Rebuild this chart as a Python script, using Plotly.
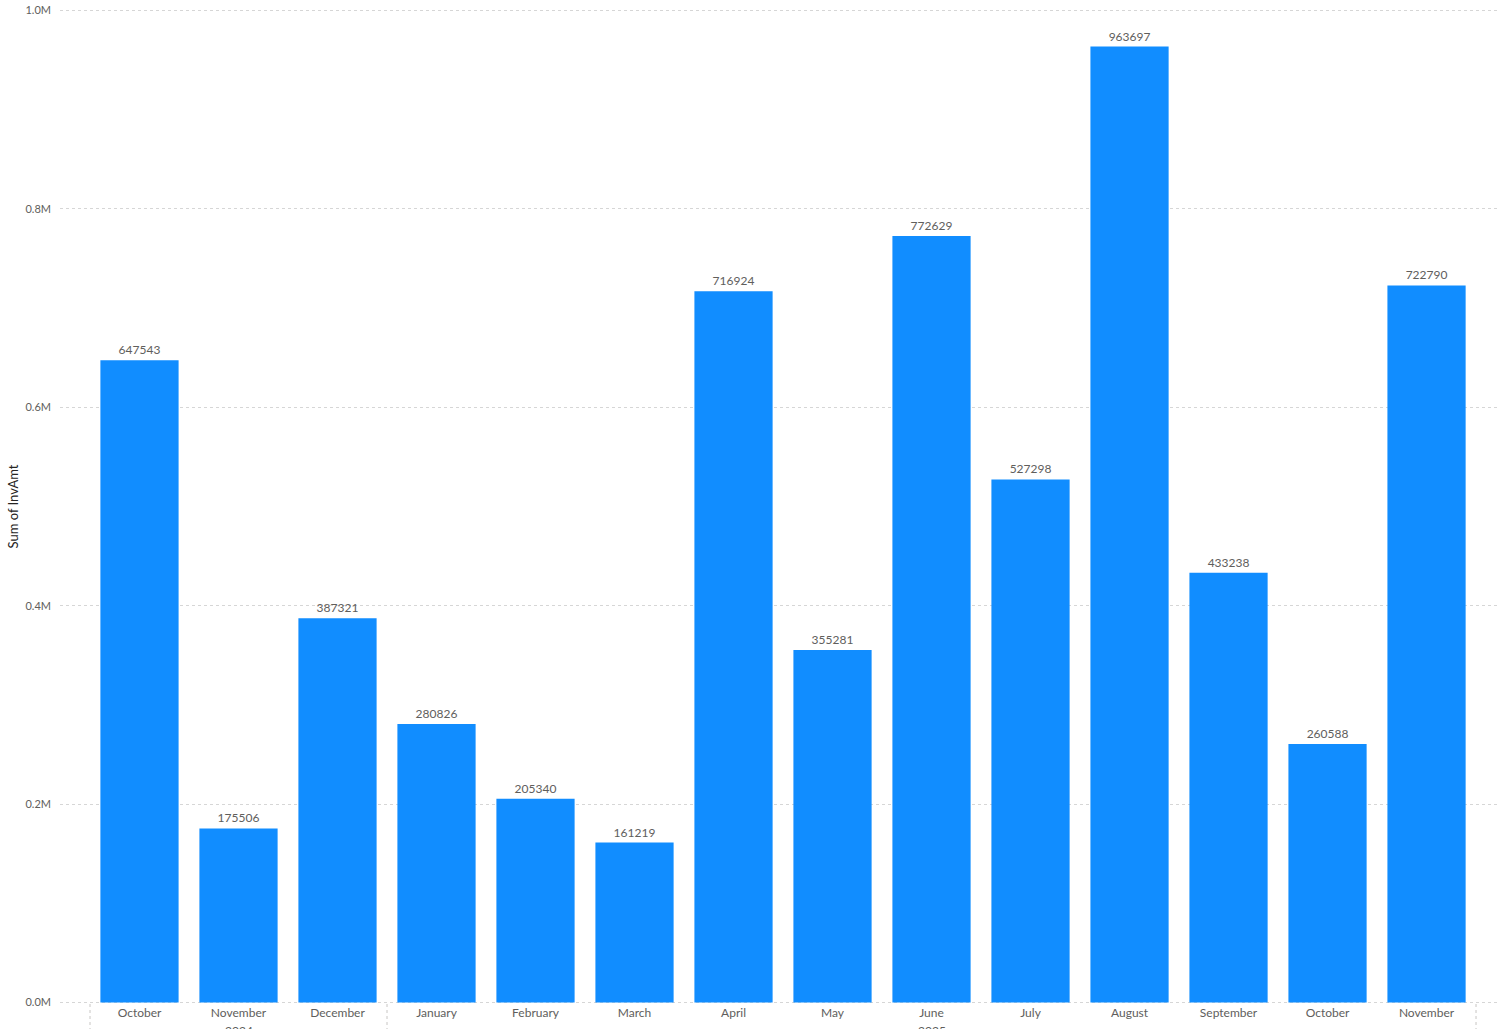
import plotly.graph_objects as go

months = ["October", "November", "December", "January", "February", "March", "April",
          "May", "June", "July", "August", "September", "October", "November"]
inv_amt = [647543, 175506, 387321, 280826, 205340, 161219, 716924,
           355281, 772629, 527298, 963697, 433238, 260588, 722790]
years = ["2024", "2025"]
year_spans = [(0, 2), (3, 13)]  # first / last month index of each year

y_ticks = [0, 200000, 400000, 600000, 800000, 1000000]
y_tick_text = ["0.0M", "0.2M", "0.4M", "0.6M", "0.8M", "1.0M"]

FONT = "Segoe UI, Lato, sans-serif"
positions = list(range(len(months)))

fig = go.Figure(data=[go.Bar(
    x=positions,
    y=inv_amt,
    width=0.79,
    marker=dict(color="#118DFF", line=dict(width=0)),
    text=inv_amt,
    texttemplate="%{text}",
    textposition="outside",
    textfont=dict(family=FONT, size=12, color="#605E5C"),
    cliponaxis=False,
)])

# year level of the axis: dotted dividers and year labels (cut off by the canvas, as in the source)
dividers = [year_spans[0][0] - 0.5] + [s[1] + 0.5 for s in year_spans]
for d in dividers:
    fig.add_shape(type="line", xref="x", yref="paper", x0=d, x1=d, y0=0, y1=-0.03,
                  line=dict(color="#C8C6C4", width=1, dash="dot"))
for yr, (a, b) in zip(years, year_spans):
    fig.add_annotation(x=(a + b) / 2, y=0, xref="x", yref="paper", text=yr,
                       showarrow=False, yanchor="top", yshift=-17,
                       font=dict(family=FONT, size=12, color="#605E5C"))

# y axis title
fig.add_annotation(x=0, y=0.5, xref="paper", yref="paper", text="Sum of InvAmt",
                   textangle=-90, showarrow=False, xanchor="center", xshift=-48,
                   font=dict(family=FONT, size=13, color="#252423"))

fig.update_layout(
    width=1499, height=1029,
    margin=dict(l=60, r=0, t=9, b=25, autoexpand=False),
    plot_bgcolor="white", paper_bgcolor="white",
    showlegend=False,
    font=dict(family=FONT, size=12, color="#605E5C"),
    xaxis=dict(
        range=[-0.803, 13.732],
        tickvals=positions, ticktext=months,
        showgrid=False, zeroline=False, showline=False, ticks="",
        automargin=False,
        tickfont=dict(family=FONT, size=12, color="#605E5C"),
    ),
    yaxis=dict(
        range=[-1500, 1001500],
        tickvals=y_ticks, ticktext=y_tick_text,
        showgrid=True, gridcolor="#D6D6D6", griddash="dot", gridwidth=1,
        zeroline=False, showline=False, ticks="",
        automargin=False,
        ticklabelstandoff=8, ticklabeloverflow="allow",
        tickfont=dict(family=FONT, size=11, color="#605E5C"),
    ),
)

# drop the default page margin so the figure fills the window exactly
fig.write_html("out.html", config={"displayModeBar": False},
               post_script="document.body.style.margin='0';document.body.style.overflow='hidden';")
